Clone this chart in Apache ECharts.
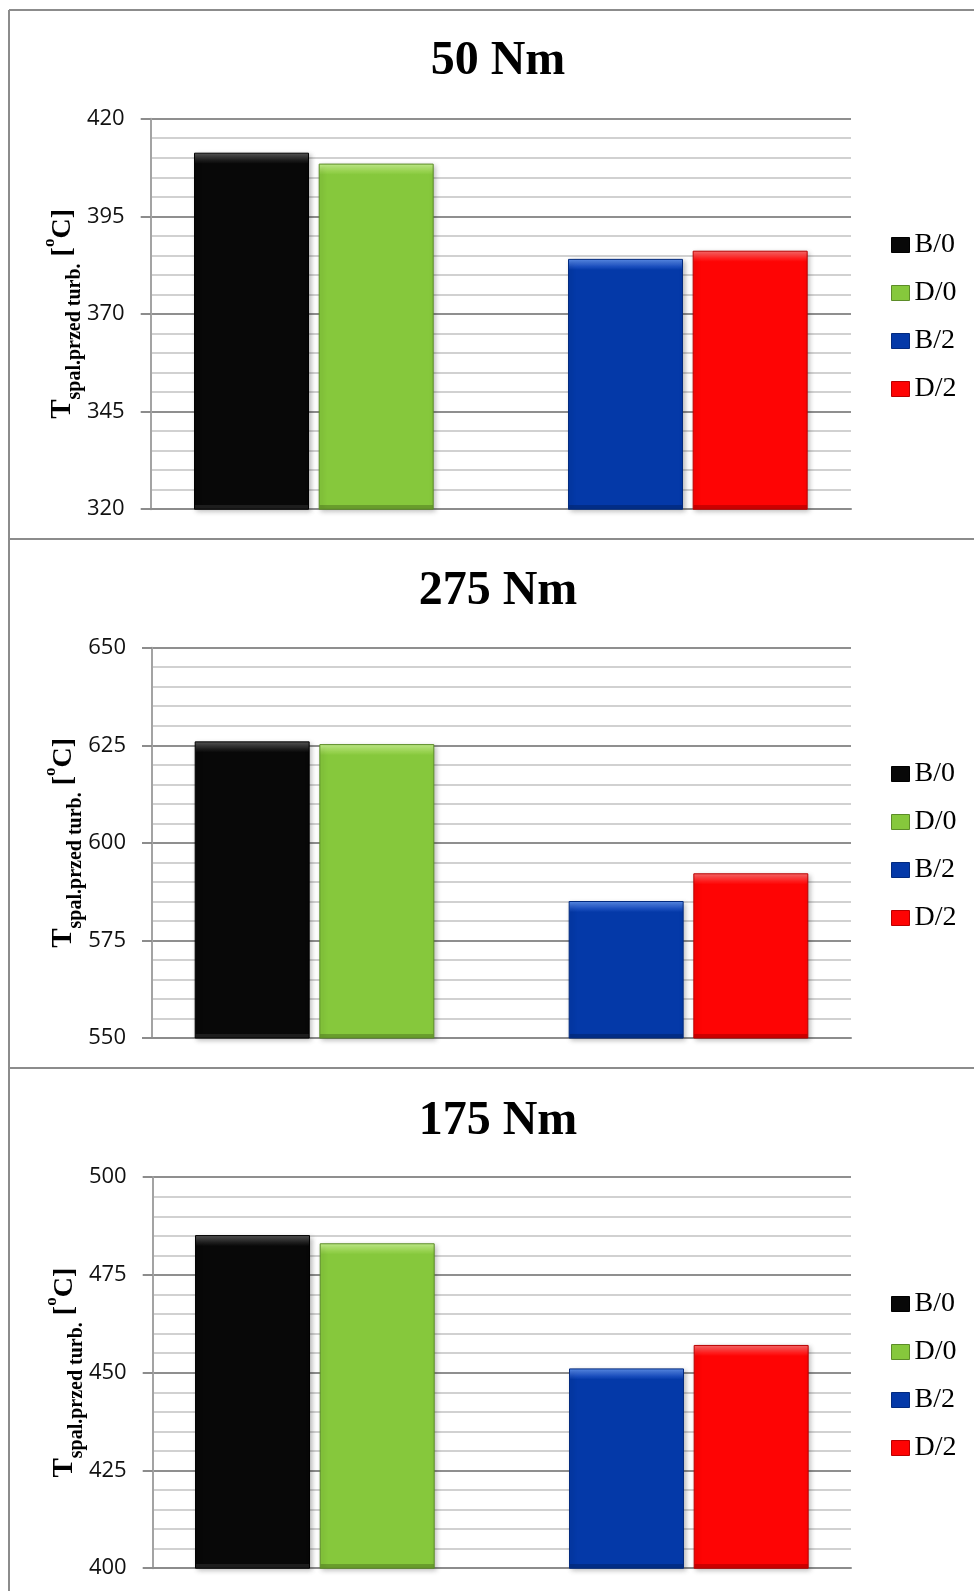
<!DOCTYPE html>
<html>
<head>
<meta charset="utf-8">
<script src="https://cdn.jsdelivr.net/npm/echarts@6/dist/echarts.min.js"></script>
<style>
  html, body { margin: 0; padding: 0; background: #fff; }
  #chart { width: 974px; height: 1591px; }
</style>
</head>
<body>
<div id="chart"></div>
<script>
// Exhaust gas temperature before the turbine for four fuel/setting variants,
// shown for three engine loads.
const seriesNames = ['B/0', 'D/0', 'B/2', 'D/2'];
const loadTitles = ['50 Nm', '275 Nm', '175 Nm'];

const temp50 = [411.3, 408.5, 384.1, 386.2];
const temp275 = [626.0, 625.3, 585.1, 592.2];
const temp175 = [485.2, 483.1, 451.1, 457.1];

const axisMin = [320, 550, 400];
const axisMax = [420, 650, 500];
const axisStep = 25;

const panelValues = [temp50, temp275, temp175];

// Styling
const palette = [
  { base: '#080808', top: '#5a5a5a', topEnd: '#1c1c1c', bottom: '#1e1e1e', border: '#000000' },
  { base: '#86c83c', top: '#c8f490', topEnd: '#98d350', bottom: '#6a9f2d', border: '#5c8c28' },
  { base: '#0439a8', top: '#5e90ec', topEnd: '#1b4fbe', bottom: '#032e88', border: '#022a7e' },
  { base: '#fe0404', top: '#ff6e6e', topEnd: '#ff1f1f', bottom: '#cf0000', border: '#b80000' }
];
const panelLayout = [
  { left: 150.7, top: 118.7, height: 390.5, titleTop: 33, legendTop: 226 },
  { left: 152.0, top: 647.7, height: 390.3, titleTop: 563, legendTop: 755 },
  { left: 152.7, top: 1177.2, height: 391.0, titleTop: 1093, legendTop: 1285 }
];
const GRID_RIGHT = 974 - 851;
const BAR_W = 115;
const SERIF = 'Liberation Serif';

// Bevelled bar face: lighter strip on top, darker strip at the foot.
function barFace(p, value, min, max, plotH) {
  const px = Math.max(1, plotH * (value - min) / (max - min));
  const ft = Math.min(0.45, 11 / px);
  const fb = Math.min(0.2, 5 / px);
  return new echarts.graphic.LinearGradient(0, 0, 0, 1, [
    { offset: 0, color: p.top },
    { offset: ft * 0.7, color: p.topEnd },
    { offset: ft, color: p.base },
    { offset: 1 - fb, color: p.base },
    { offset: Math.min(1, 1 - fb + 0.002), color: p.bottom },
    { offset: 1, color: p.bottom }
  ]);
}

const titles = [], grids = [], xAxes = [], yAxes = [], legends = [], series = [];

panelValues.forEach((vals, k) => {
  const L = panelLayout[k];
  titles.push({
    text: loadTitles[k],
    left: 493,
    top: L.titleTop,
    textAlign: 'center',
    textStyle: { fontFamily: SERIF, fontWeight: 'bold', fontSize: 48, color: '#000' }
  });
  grids.push({ left: L.left, right: GRID_RIGHT, top: L.top, height: L.height, containLabel: false });
  xAxes.push({
    type: 'category', gridIndex: k, data: [''],
    axisLine: { show: true, lineStyle: { color: '#8c8c8c', width: 2 } },
    axisTick: { show: false }, axisLabel: { show: false }, splitLine: { show: false }
  });
  yAxes.push({
    type: 'value', gridIndex: k,
    min: axisMin[k], max: axisMax[k], interval: axisStep,
    name: '{t|T}{s|spal.przed turb.}{b| [}{u|o}{b|C]}',
    nameLocation: 'middle', nameRotate: 90, nameGap: 66, nameMoveOverlap: false,
    nameTextStyle: {
      rich: {
        t: { fontFamily: SERIF, fontWeight: 'bold', fontSize: 29, lineHeight: 44, verticalAlign: 'middle', color: '#000' },
        s: { fontFamily: SERIF, fontWeight: 'bold', fontSize: 20, lineHeight: 20, verticalAlign: 'bottom', color: '#000' },
        b: { fontFamily: SERIF, fontWeight: 'bold', fontSize: 28, lineHeight: 44, verticalAlign: 'middle', color: '#000' },
        u: { fontFamily: SERIF, fontWeight: 'bold', fontSize: 17, lineHeight: 34, verticalAlign: 'top', color: '#000' }
      }
    },
    axisLine: { show: true, lineStyle: { color: '#a3a3a3', width: 2 } },
    axisTick: { show: true, length: 10, lineStyle: { color: '#8c8c8c', width: 2 } },
    axisLabel: { margin: 26, fontFamily: 'Open Sans', fontSize: 22, color: '#111' },
    splitLine: { show: true, lineStyle: { color: '#8f8f8f', width: 2 } },
    minorTick: { show: false, splitNumber: 5 },
    minorSplitLine: { show: true, lineStyle: { color: '#c2c2c2', width: 1.6 } }
  });
  legends.push({
    orient: 'vertical', left: 886, top: L.legendTop,
    itemWidth: 18, itemHeight: 15, itemGap: 20,
    icon: 'rect',
    textStyle: { fontFamily: SERIF, fontSize: 28, lineHeight: 26, color: '#000' },
    data: seriesNames.map((n, i) => ({
      name: n,
      itemStyle: { color: palette[i].base, borderColor: palette[i].border, borderWidth: 1 }
    }))
  });

  const makeSeries = (i) => ({
    type: 'bar', name: seriesNames[i], xAxisIndex: k, yAxisIndex: k,
    barWidth: BAR_W, barGap: '8.4%',
    itemStyle: {
      color: palette[i].base, borderColor: palette[i].border, borderWidth: 1,
      shadowColor: 'rgba(0,0,0,0.28)', shadowBlur: 5, shadowOffsetX: 2, shadowOffsetY: 2
    },
    data: [{
      value: vals[i],
      itemStyle: { color: barFace(palette[i], vals[i], axisMin[k], axisMax[k], L.height) }
    }]
  });
  series.push(makeSeries(0), makeSeries(1));
  // empty slot between the two pairs of bars
  series.push({ type: 'bar', name: 'spacer', xAxisIndex: k, yAxisIndex: k, barWidth: BAR_W, barGap: '8.4%', data: ['-'] });
  series.push(makeSeries(2), makeSeries(3));
});

const frameColor = '#8c8c8c';
const frame = [
  { type: 'line', shape: { x1: 9, y1: 10, x2: 9, y2: 1591 }, style: { stroke: frameColor, lineWidth: 2 } },
  { type: 'line', shape: { x1: 9, y1: 10, x2: 974, y2: 10 }, style: { stroke: frameColor, lineWidth: 2 } },
  { type: 'line', shape: { x1: 9, y1: 539, x2: 974, y2: 539 }, style: { stroke: frameColor, lineWidth: 2 } },
  { type: 'line', shape: { x1: 9, y1: 1068, x2: 974, y2: 1068 }, style: { stroke: frameColor, lineWidth: 2 } }
];

const chart = echarts.init(document.getElementById('chart'), null, { renderer: 'canvas' });
chart.setOption({
  animation: false,
  backgroundColor: '#fff',
  title: titles,
  grid: grids,
  xAxis: xAxes,
  yAxis: yAxes,
  legend: legends,
  graphic: frame,
  series: series
});
</script>
</body>
</html>
